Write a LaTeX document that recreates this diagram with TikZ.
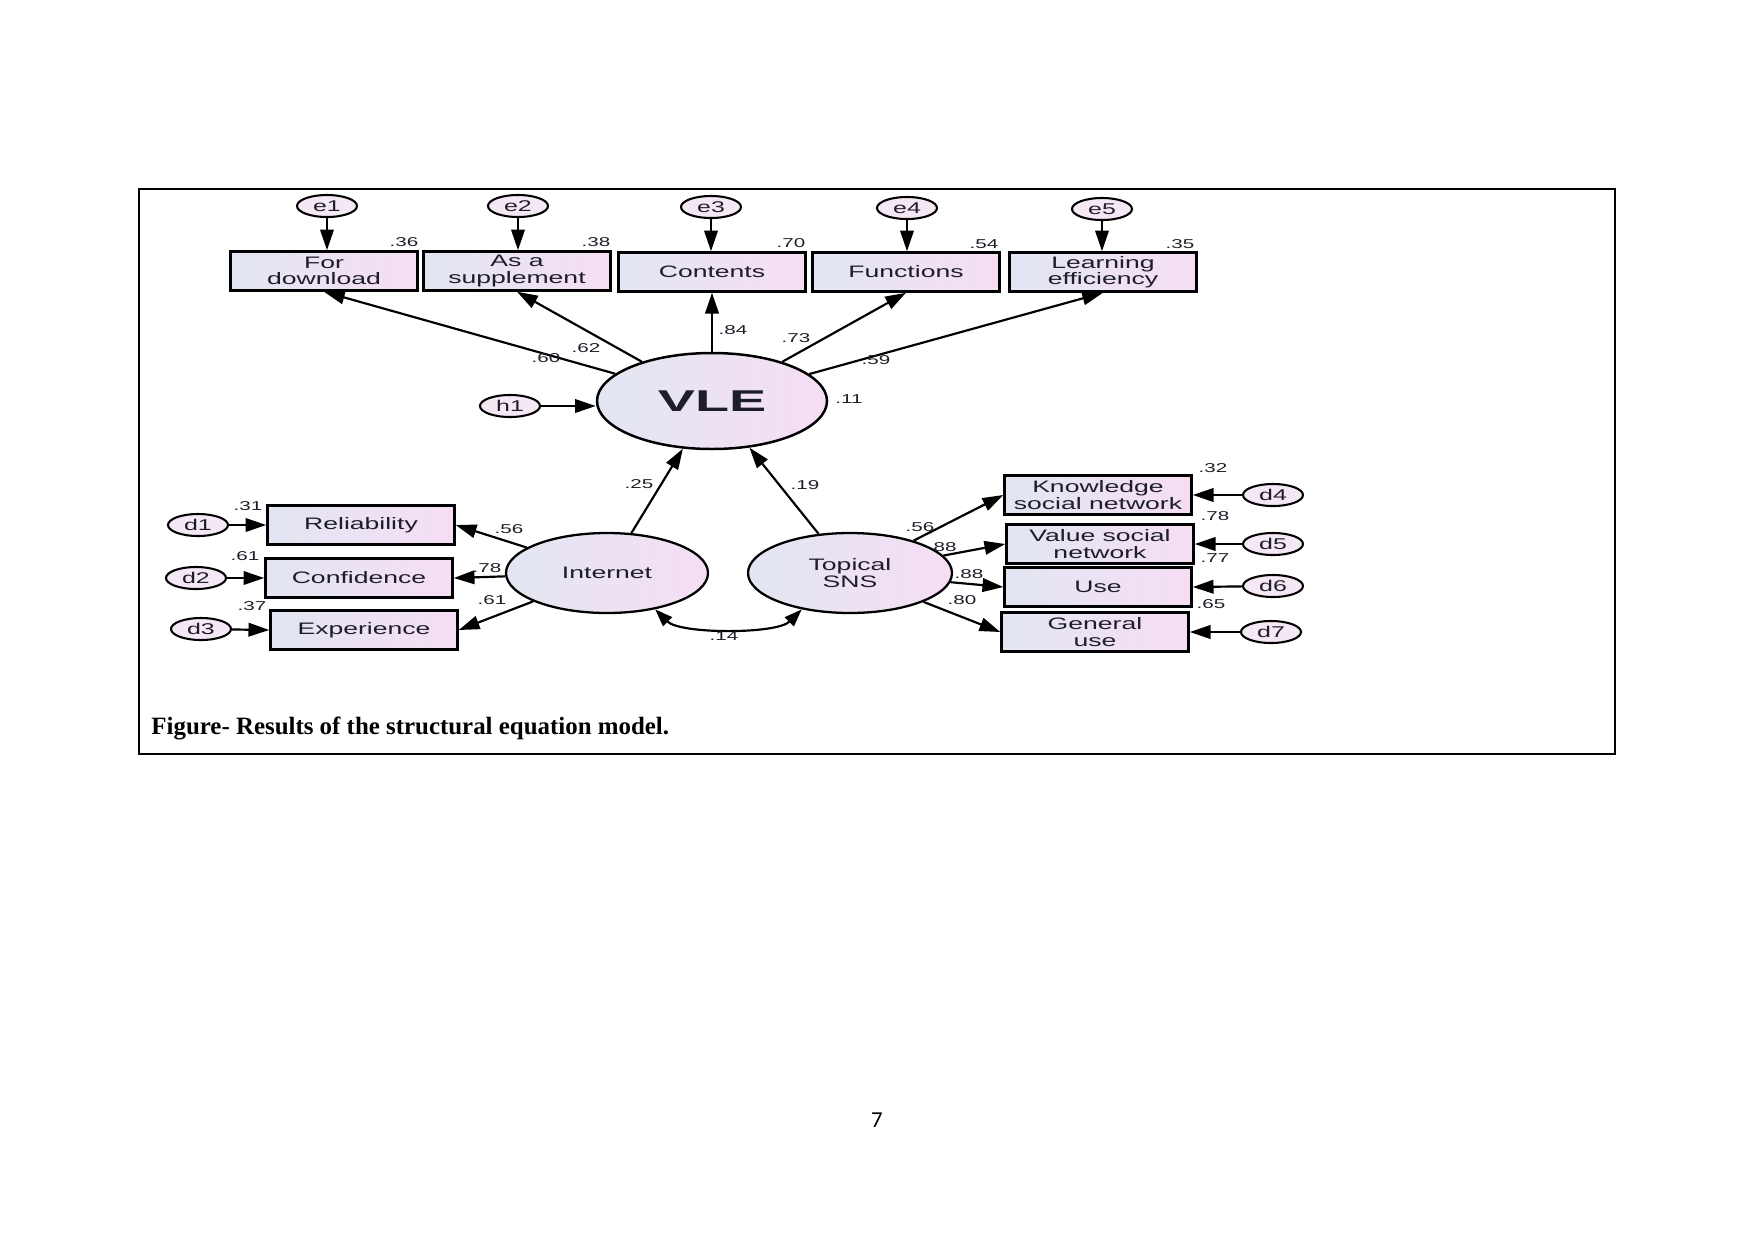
\documentclass[tikz,border=0pt]{standalone}
\usepackage{fontspec}
\usetikzlibrary{shapes.geometric,arrows.meta}
\newfontfamily\amos[FakeStretch=1.6]{Liberation Sans}
\newfontfamily\amosv[FakeStretch=1.85]{Liberation Sans}
\newfontfamily\capfont{Liberation Serif}
\newfontfamily\pgfont{Carlito}
\def\pxl{0.16933mm}
\definecolor{fillL}{RGB}{226,230,242}
\definecolor{fillR}{RGB}{246,222,244}
\definecolor{errfill}{RGB}{244,232,244}
\definecolor{txt}{RGB}{30,30,40}
\begin{document}
\begin{tikzpicture}[x=0.16933mm,y=-0.16933mm,
 obs/.style={draw, line width=1.2pt, rectangle, minimum width=187*\pxl, minimum height=39*\pxl, inner sep=0pt, left color=fillL, right color=fillR, align=center, font=\amos\fontsize{8}{7.8}\selectfont, text=txt},
 lat/.style={draw, line width=1.1pt, ellipse, inner sep=0pt, left color=fillL, right color=fillR, align=center, font=\amos\fontsize{8}{7.8}\selectfont, text=txt},
 err/.style={draw, line width=1pt, ellipse, inner sep=0pt, minimum width=60*\pxl, minimum height=22*\pxl, fill=errfill, text=txt, font=\amos\fontsize{7.5}{8}\selectfont},
 val/.style={inner sep=0pt, font=\amos\fontsize{6.2}{6.5}\selectfont, text=txt},
 arr/.style={line width=1.05pt, -{Triangle[length=10pt,width=6.5pt]}},
 biarr/.style={line width=1.05pt, {Triangle[length=8.5pt,width=6pt]}-{Triangle[length=8.5pt,width=6pt]}},
]
\useasboundingbox (0,0) rectangle (1754,1241);
\draw[line width=0.5pt] (139,189) rectangle (1615,754);

% error terms of top indicators
\node[err] (e1) at (327,206) {e1};
\node[err] (e2) at (518,206) {e2};
\node[err] (e3) at (711,207) {e3};
\node[err] (e4) at (907,208) {e4};
\node[err] (e5) at (1102,209) {e5};

% top indicators
\node[obs] (FD) at (324,271) {For\\download};
\node[obs] (AS) at (517,271) {As a\\supplement};
\node[obs] (CT) at (712,272) {Contents};
\node[obs] (FN) at (906,272) {Functions};
\node[obs] (LE) at (1103,272) {Learning\\efficiency};

% latent variables
\node[lat, line width=1.2pt, minimum width=230*\pxl, minimum height=96*\pxl, font=\amosv\bfseries\fontsize{14.5}{15}\selectfont] (VLE) at (712,401) {VLE};
\node[err] (h1) at (510,406) {h1};
\node[lat, minimum width=202*\pxl, minimum height=80*\pxl] (INT) at (607,573) {Internet};
\node[lat, minimum width=204*\pxl, minimum height=80*\pxl] (TS) at (850,573) {Topical\\SNS};

% left indicators
\node[obs] (RE) at (361,525) {Reliability};
\node[obs] (CF) at (359,578) {Confidence};
\node[obs] (EX) at (364,630) {Experience};
\node[err] (d1) at (198,525) {d1};
\node[err] (d2) at (196,578) {d2};
\node[err] (d3) at (201,629) {d3};

% right indicators
\node[obs] (KN) at (1098,495) {Knowledge\\social network};
\node[obs] (VS) at (1100,544) {Value social\\network};
\node[obs] (US) at (1098,587) {Use};
\node[obs] (GU) at (1095,632) {General\\use};
\node[err] (d4) at (1273,495) {d4};
\node[err] (d5) at (1273,544) {d5};
\node[err] (d6) at (1273,586) {d6};
\node[err] (d7) at (1271,632) {d7};

% arrows
\foreach \e/\b in {e1/FD,e2/AS,e3/CT,e4/FN,e5/LE}
  \draw[arr] (\e.south) -- (\e.south |- \b.north);
\foreach \b in {FD,AS,CT,FN,LE}
  \draw[arr] (VLE) -- (\b.south);
\draw[arr] (h1.east) -- (h1.east -| VLE.west);
\draw[arr] (INT) -- (VLE);
\draw[arr] (TS) -- (VLE);
\foreach \b in {RE,CF,EX} \draw[arr] (INT) -- (\b.east);
\foreach \d/\b in {d1/RE,d2/CF,d3/EX} \draw[arr] (\d) -- (\b.west);
\foreach \b in {KN,VS,US,GU} \draw[arr] (TS) -- (\b.west);
\foreach \d/\b in {d4/KN,d5/VS,d6/US,d7/GU} \draw[arr] (\d) -- (\b.east);
\draw[biarr] (INT.-37) .. controls +(25,25) and +(-25,25) .. (TS.-143);

% values
\node[val] (v1) at (404,242) {.36};
\node[val] (v2) at (596,242) {.38};
\node[val] (v3) at (791,243) {.70};
\node[val] (v4) at (984,244) {.54};
\node[val] (v5) at (1180,244) {.35};
\node[val] (v6) at (546,358) {.60};
\node[val] (v7) at (586,348) {.62};
\node[val] (v8) at (733,330) {.84};
\node[val] (v9) at (796,338) {.73};
\node[val] (v10) at (876,360) {.59};
\node[val] (v11) at (849,399) {.11};
\node[val] (v12) at (639,484) {.25};
\node[val] (v13) at (805,485) {.19};
\node[val] (v14) at (724,636) {.14};
\node[val] (v15) at (248,506) {.31};
\node[val] (v16) at (245,556) {.61};
\node[val] (v17) at (252,606) {.37};
\node[val] (v18) at (509,529) {.56};
\node[val] (v19) at (487,568) {.78};
\node[val] (v20) at (492,600) {.61};
\node[val] (v21) at (1213,468) {.32};
\node[val] (v22) at (1215,516) {.78};
\node[val] (v23) at (1215,558) {.77};
\node[val] (v24) at (1211,604) {.65};
\node[val] (v25) at (920,527) {.56};
\node[val] (v26) at (945,547) {88};
\node[val] (v27) at (969,574) {.88};
\node[val] (v28) at (962,600) {.80};

% caption and page number
\node[font=\capfont\bfseries\fontsize{12}{14}\selectfont, anchor=base west, inner sep=0pt] (cap) at (151,734) {Figure- Results of the structural equation model.};
\node[font=\pgfont\fontsize{11}{13}\selectfont, anchor=base, inner sep=0pt] (pg) at (877,1127) {7};
\end{tikzpicture}
\end{document}
